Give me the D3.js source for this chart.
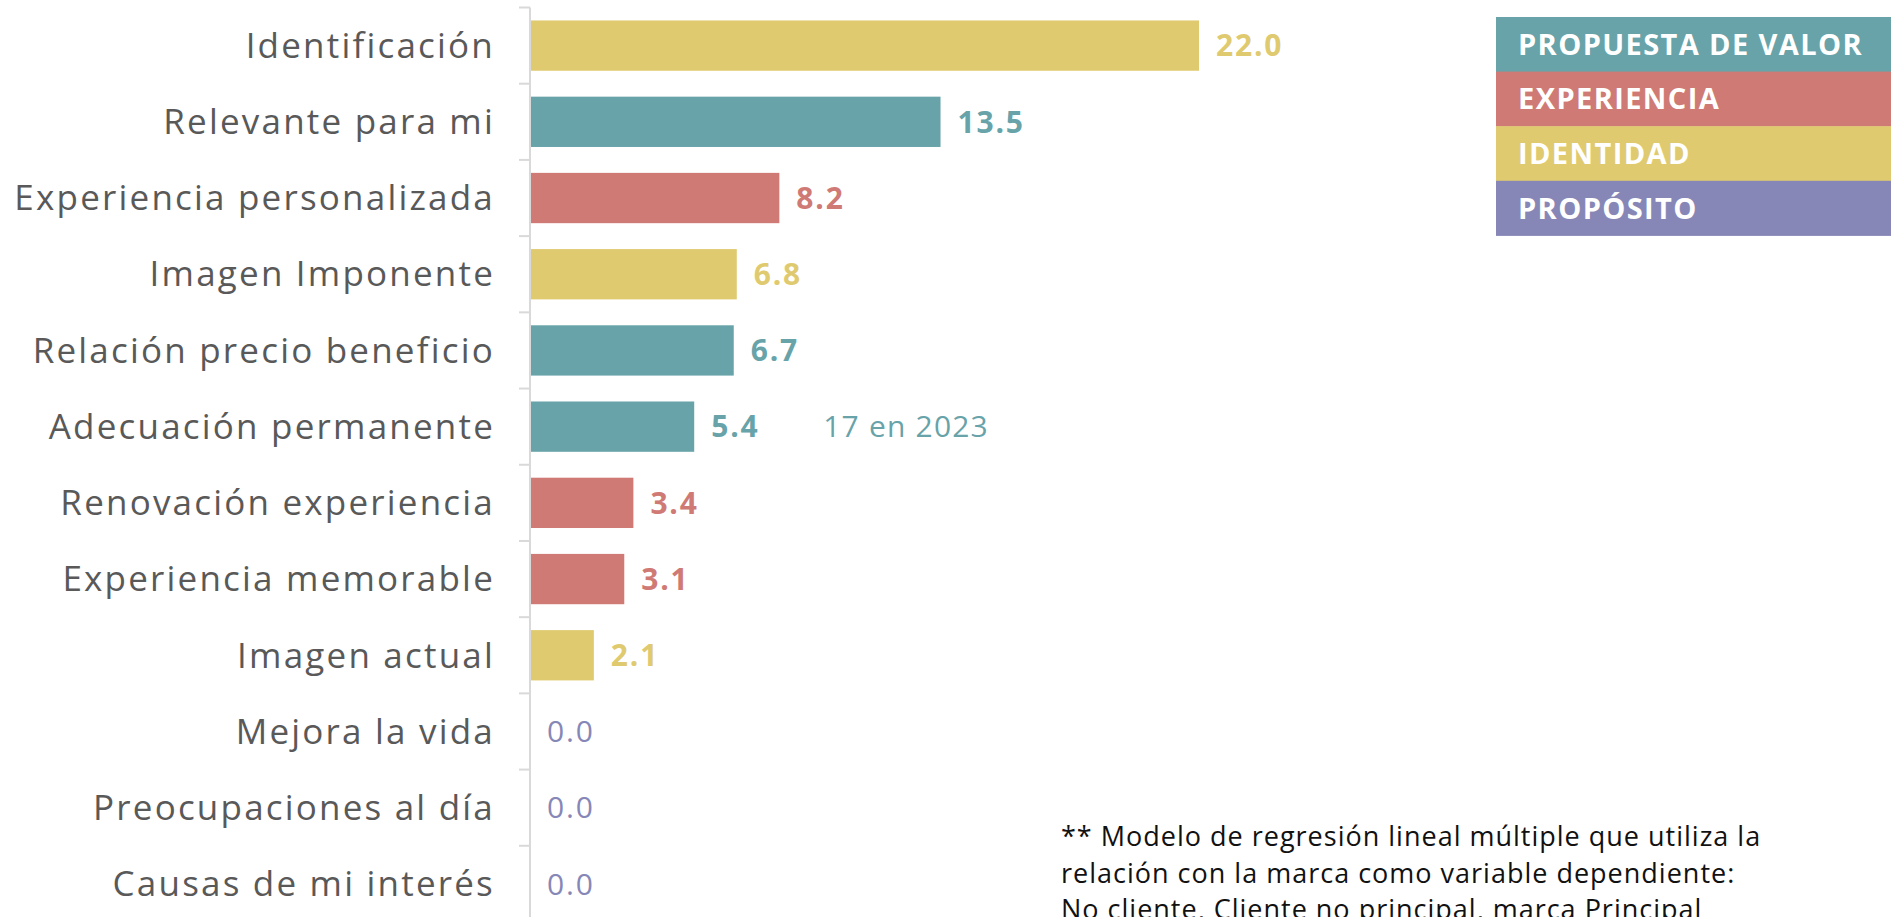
<!DOCTYPE html>
<html>
<head>
<meta charset="utf-8">
<script src="https://cdn.jsdelivr.net/npm/d3@7"></script>
<style>
	html, body { margin: 0; padding: 0; background: #fff; overflow: hidden; }
	#vis_container { width: 1903px; height: 917px; }
</style>
</head>
<body>
<div id="vis_container"></div>
<script>
// chart data
var categories = ["Identificación", "Relevante para mi", "Experiencia personalizada", "Imagen Imponente",
	"Relación precio beneficio", "Adecuación permanente", "Renovación experiencia", "Experiencia memorable",
	"Imagen actual", "Mejora la vida", "Preocupaciones al día", "Causas de mi interés"];
var values = [22.0, 13.5, 8.2, 6.8, 6.7, 5.4, 3.4, 3.1, 2.1, 0.0, 0.0, 0.0];
var groups = ["IDENTIDAD", "PROPUESTA DE VALOR", "EXPERIENCIA", "IDENTIDAD",
	"PROPUESTA DE VALOR", "PROPUESTA DE VALOR", "EXPERIENCIA", "EXPERIENCIA",
	"IDENTIDAD", "PROPÓSITO", "PROPÓSITO", "PROPÓSITO"];
var legendLabels = ["PROPUESTA DE VALOR", "EXPERIENCIA", "IDENTIDAD", "PROPÓSITO"];
var annotation = {category: "Adecuación permanente", text: "17 en 2023"};
var footnote = ["** Modelo de regresión lineal múltiple que utiliza la",
	"relación con la marca como variable dependiente:",
	"No cliente, Cliente no principal, marca Principal"];

var chart = {};
chart.width = 1903;
chart.height = 917;
chart.font = "'Open Sans', sans-serif";

chart.color = d3.scaleOrdinal()
	.domain(legendLabels)
	.range(["#67a3a9", "#cf7a74", "#e0ca6f", "#8787b7"]);

chart.x = d3.scaleLinear()
	.domain([0, d3.max(values)])
	.range([530, 1199]);

chart.y = d3.scaleBand()
	.domain(categories)
	.range([7.5, 922])
	.paddingInner(0.34)
	.paddingOuter(0.17);

chart.svg = d3.select("#vis_container").append("svg")
	.attr("width", chart.width)
	.attr("height", chart.height);

var data = categories.map(function(c, i) { return {cat: c, value: values[i], group: groups[i]}; });

// axis line + ticks between the bands
var step = chart.y.step();
var y0 = chart.y.range()[0];
chart.svg.append("line")
	.attr("x1", chart.x(0)).attr("x2", chart.x(0))
	.attr("y1", y0).attr("y2", chart.y.range()[1])
	.attr("stroke", "#d9d9d9").attr("stroke-width", 2);

chart.svg.selectAll(".tick")
	.data(d3.range(categories.length + 1))
	.enter()
	.append("line")
		.attr("class", "tick")
		.attr("x1", chart.x(0) - 11).attr("x2", chart.x(0))
		.attr("y1", function(d) { return y0 + d * step; })
		.attr("y2", function(d) { return y0 + d * step; })
		.attr("stroke", "#d9d9d9").attr("stroke-width", 2);

// bars
chart.svg.selectAll(".bar")
	.data(data)
	.enter()
	.append("rect")
		.attr("class", "bar")
		.attr("x", chart.x(0) + 1)
		.attr("y", function(d) { return chart.y(d.cat); })
		.attr("width", function(d) { return Math.max(0, chart.x(d.value) - chart.x(0) - 1); })
		.attr("height", chart.y.bandwidth())
		.attr("fill", function(d) { return chart.color(d.group); });

// category labels
chart.svg.selectAll(".catLabel")
	.data(data)
	.enter()
	.append("text")
		.attr("class", "catLabel")
		.attr("x", chart.x(0) - 35)
		.attr("y", function(d) { return chart.y(d.cat) + chart.y.bandwidth() / 2; })
		.attr("dy", "0.35em")
		.attr("text-anchor", "end")
		.attr("font-family", chart.font)
		.attr("font-size", 35)
		.attr("letter-spacing", 2.2)
		.attr("fill", "#595959")
		.text(function(d) { return d.cat; });

// value labels
chart.svg.selectAll(".valLabel")
	.data(data)
	.enter()
	.append("text")
		.attr("class", "valLabel")
		.attr("x", function(d) { return chart.x(d.value) + 17; })
		.attr("y", function(d) { return chart.y(d.cat) + chart.y.bandwidth() / 2; })
		.attr("dy", "0.36em")
		.attr("font-family", chart.font)
		.attr("font-weight", function(d) { return d.value > 0 ? 700 : 400; })
		.attr("font-size", 30)
		.attr("letter-spacing", 1.8)
		.attr("fill", function(d) { return chart.color(d.group); })
		.text(function(d) { return d3.format(".1f")(d.value); });

// annotation next to the bar
var annIdx = categories.indexOf(annotation.category);
chart.svg.append("text")
	.attr("x", chart.x(values[annIdx]) + 129)
	.attr("y", chart.y(annotation.category) + chart.y.bandwidth() / 2)
	.attr("dy", "0.36em")
	.attr("font-family", chart.font)
	.attr("font-size", 30)
	.attr("letter-spacing", 1.2)
	.attr("fill", chart.color(groups[annIdx]))
	.text(annotation.text);

// legend
chart.legend = chart.svg.append("g")
	.attr("transform", "translate(1496,17)");
var rowH = 54.6;
chart.legend.selectAll("rect")
	.data(legendLabels)
	.enter()
	.append("rect")
		.attr("x", 0)
		.attr("y", function(d, i) { return i * rowH; })
		.attr("width", 395)
		.attr("height", rowH + 0.5)
		.attr("fill", function(d) { return chart.color(d); });
chart.legend.selectAll("text")
	.data(legendLabels)
	.enter()
	.append("text")
		.attr("x", 22)
		.attr("y", function(d, i) { return i * rowH + rowH / 2; })
		.attr("dy", "0.36em")
		.attr("font-family", chart.font)
		.attr("font-weight", 700)
		.attr("font-size", 29)
		.attr("letter-spacing", 1.4)
		.attr("fill", "#fff")
		.text(function(d) { return d; });

// footnote
chart.svg.append("text")
	.attr("x", 1061)
	.attr("y", 846)
	.attr("font-family", chart.font)
	.attr("font-size", 27)
	.attr("letter-spacing", 1.0)
	.attr("fill", "#111")
	.selectAll("tspan")
	.data(footnote)
	.enter()
	.append("tspan")
		.attr("x", 1061)
		.attr("dy", function(d, i) { return i === 0 ? 0 : 36.5; })
		.text(function(d) { return d; });
</script>
</body>
</html>
